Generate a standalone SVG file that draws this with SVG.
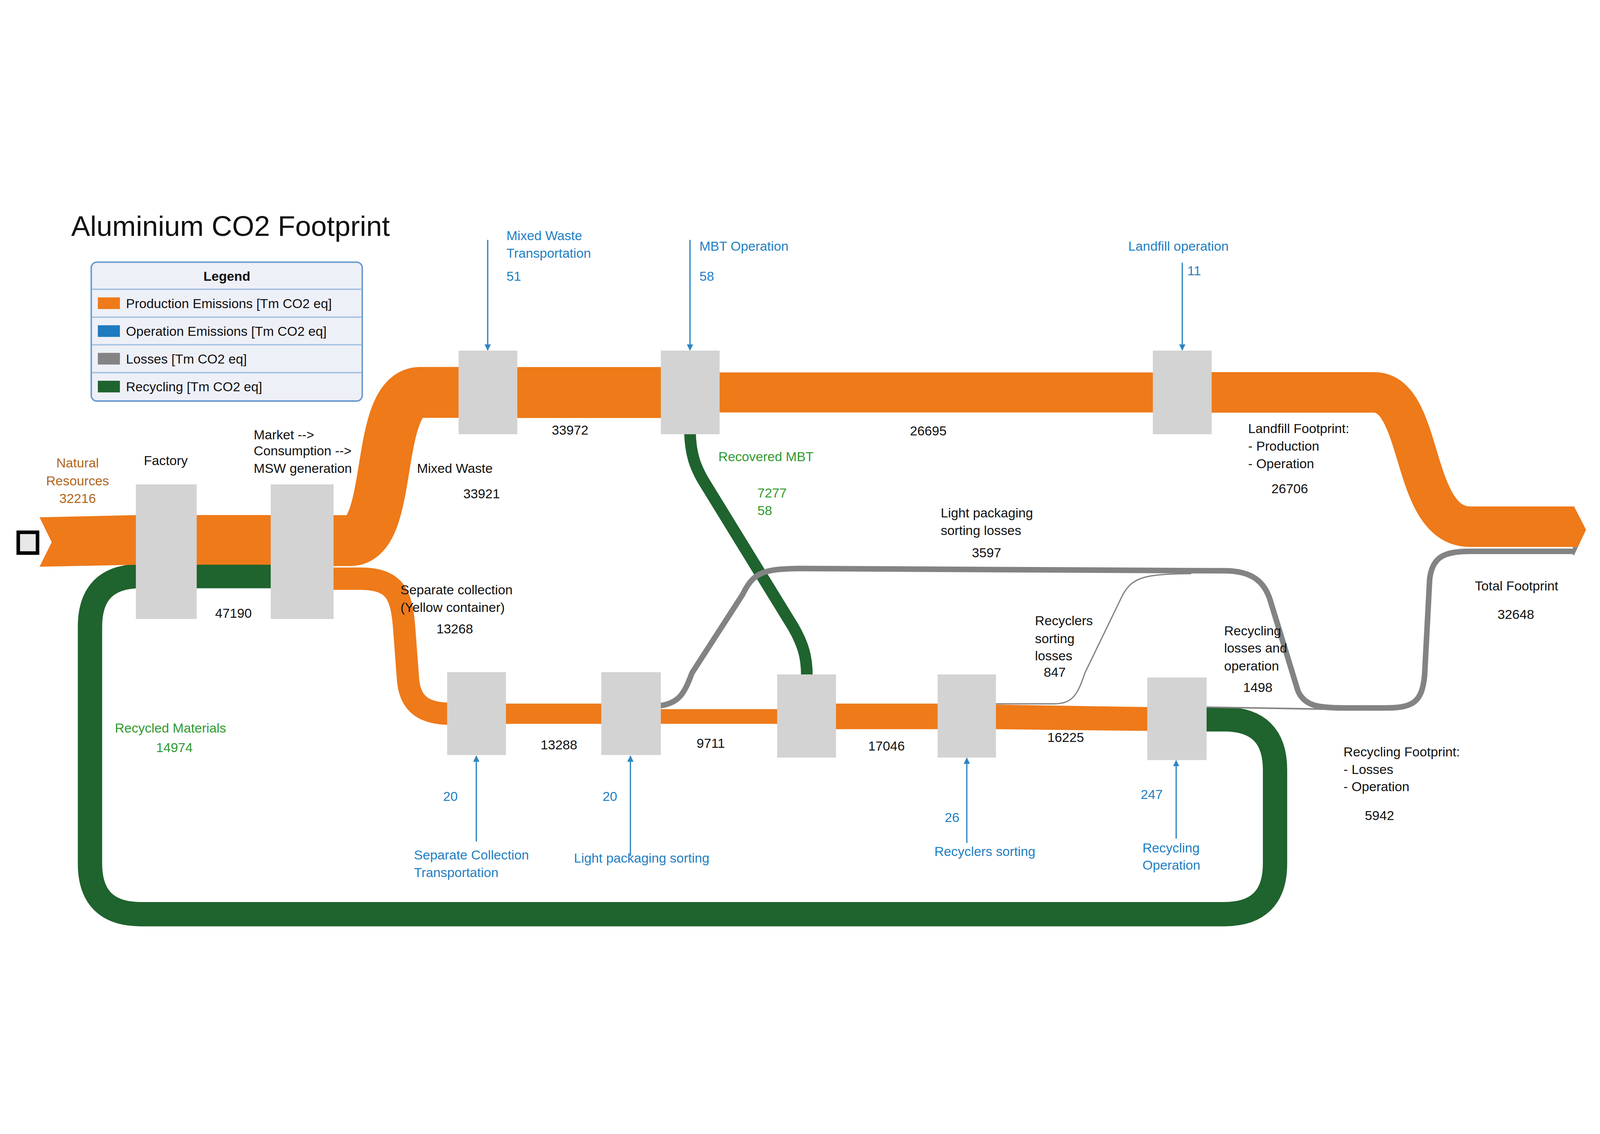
<svg xmlns="http://www.w3.org/2000/svg" width="6312" height="2904" viewBox="0 0 6312 2904" preserveAspectRatio="xMidYMid meet" style="max-width:100vw;max-height:100vh">
<defs>
<style>
text{font-family:"Liberation Sans",Arial,sans-serif;font-size:52px;fill:#111}
.b{fill:#1f7fc3}.g{fill:#2f9a2f}.br{fill:#b0651a}.c{text-anchor:middle}
.box{fill:#d3d3d3}
.or{fill:none;stroke:#ee7a1a}.gr{fill:none;stroke:#1f632e}.gy{fill:none;stroke:#838383}
.ar{stroke:#2e86c1;stroke-width:5;fill:none;marker-end:url(#ah)}
</style>
<marker id="ah" viewBox="0 0 10 10" refX="9" refY="5" markerWidth="5" markerHeight="5" orient="auto"><path d="M0,0 L10,5 L0,10 z" fill="#2e86c1"/></marker>
</defs>
<rect width="6312" height="2904" fill="#fff"/>
<text x="281" y="146" style="font-size:112px">Aluminium CO2 Footprint</text>
<g id="legend">
<rect x="360" y="249" width="1069" height="548" rx="22" fill="#eef0f8" stroke="#6b9bcf" stroke-width="6"/>
<g stroke="#a8c4e0" stroke-width="6"><line x1="362" y1="356" x2="1427" y2="356"/><line x1="362" y1="466" x2="1427" y2="466"/><line x1="362" y1="575" x2="1427" y2="575"/><line x1="362" y1="685" x2="1427" y2="685"/></g>
<text x="895" y="322" class="c" style="font-weight:bold">Legend</text>
<rect x="386" y="388" width="87" height="46" fill="#ee7a1a"/><text x="497" y="430">Production Emissions [Tm CO2 eq]</text>
<rect x="386" y="498" width="87" height="46" fill="#1f7bbf"/><text x="497" y="540">Operation Emissions [Tm CO2 eq]</text>
<rect x="386" y="607" width="87" height="46" fill="#838383"/><text x="497" y="649">Losses [Tm CO2 eq]</text>
<rect x="386" y="717" width="87" height="46" fill="#1f632e"/><text x="497" y="759">Recycling [Tm CO2 eq]</text>
</g>
<g id="connectors">
<path class="gr" stroke-width="96" d="M4740 2053 H4830 Q5030 2053 5030 2253 V2622 Q5030 2822 4830 2822 H555 Q355 2822 355 2622 V1688 Q355 1488 555 1488 H1080"/>
<polygon fill="#ee7a1a" points="156,1256 545,1247 545,1443 156,1451 204,1354"/>
<rect x="770" y="1247" width="310" height="196" fill="#ee7a1a"/>
<path class="or" stroke-width="201" d="M1300 1348 H1380 C1560 1348 1470 763 1660 763 H1820"/>
<rect x="2030" y="663" width="590" height="201" fill="#ee7a1a"/>
<path class="or" stroke-width="158" d="M2830 763 H4560"/>
<path class="or" stroke-width="160" d="M4770 763 H5420 C5620 763 5560 1293 5800 1293 H6210"/>
<polygon fill="#ee7a1a" points="6205,1213 6210,1213 6257,1305 6225,1373 6205,1373"/>
<polygon fill="#838383" points="6205,1373 6225,1373 6210,1405 6205,1405"/>
<path class="or" stroke-width="88" d="M1300 1498 H1420 C1560 1498 1585 1560 1595 1700 L1610 1900 C1620 2000 1680 2031 1780 2031"/>
<rect x="1990" y="1991" width="390" height="80" fill="#ee7a1a"/>
<rect x="2600" y="2013" width="475" height="58" fill="#ee7a1a"/>
<rect x="3290" y="1991" width="418" height="101" fill="#ee7a1a"/>
<polygon fill="#ee7a1a" points="3920,1995 4535,2005 4535,2099 3920,2092"/>
<path class="gr" stroke-width="46" d="M2722 920 C2724 1010 2745 1060 2774 1110 L3130 1690 C3170 1760 3183 1810 3183 1880"/>
<path class="gy" stroke-width="22" d="M2600 2000 C2680 1990 2700 1950 2730 1870 L2930 1560 C2970 1480 3000 1458 3160 1458 L4830 1467 C4950 1467 4990 1520 5010 1580 L5120 1940 C5145 2000 5200 2008 5300 2008 H5470 C5580 2008 5610 1980 5620 1880 L5640 1500 C5650 1410 5700 1390 5800 1390 H6210"/>
<path class="gy" stroke-width="5" d="M3920 1992 H4160 C4230 1990 4250 1960 4280 1870 L4430 1560 C4470 1490 4520 1480 4700 1478"/>
<path class="gy" stroke-width="6" d="M4760 2005 L5400 2016"/>
<line class="ar" x1="1924" y1="161" x2="1924" y2="596"/>
<line class="ar" x1="2722" y1="161" x2="2722" y2="596"/>
<line class="ar" x1="4664" y1="251" x2="4664" y2="596"/>
<line class="ar" x1="1879" y1="2535" x2="1879" y2="2198"/>
<line class="ar" x1="2487" y1="2593" x2="2487" y2="2198"/>
<line class="ar" x1="3814" y1="2541" x2="3814" y2="2206"/>
<line class="ar" x1="4640" y1="2524" x2="4640" y2="2216"/>
</g>
<g id="source"><rect x="72" y="1315" width="76" height="82" fill="#e8e8e8" stroke="#000" stroke-width="14"/>
<text class="br c" x="306" y="1059">Natural</text><text class="br c" x="306" y="1130">Resources</text><text class="br c" x="306" y="1200">32216</text></g>
<g id="factory"><rect class="box" x="536" y="1126" width="240" height="531"/><text class="c" x="654" y="1050">Factory</text></g>
<g id="market"><rect class="box" x="1068" y="1126" width="248" height="531"/><text x="1001" y="948">Market --&gt;</text><text x="1001" y="1011">Consumption --&gt;</text><text x="1001" y="1081">MSW generation</text></g>
<g id="mwt"><rect class="box" x="1809" y="598" width="232" height="330"/><text class="b" x="1998" y="162">Mixed Waste</text><text class="b" x="1998" y="232">Transportation</text><text class="b" x="1998" y="323">51</text></g>
<g id="mbt"><rect class="box" x="2607" y="598" width="232" height="330"/><text class="b" x="2759" y="204">MBT Operation</text><text class="b" x="2759" y="323">58</text></g>
<g id="landfill"><rect class="box" x="4548" y="598" width="232" height="330"/><text class="b" x="4451" y="204">Landfill operation</text><text class="b" x="4684" y="301">11</text></g>
<g id="sep"><rect class="box" x="1764" y="1867" width="232" height="327"/><text class="b" x="1748" y="2375">20</text><text class="b" x="1633" y="2607">Separate Collection</text><text class="b" x="1633" y="2676">Transportation</text></g>
<g id="lps"><rect class="box" x="2372" y="1867" width="235" height="327"/><text class="b" x="2377" y="2375">20</text><text class="b" x="2264" y="2618">Light packaging sorting</text></g>
<g id="mix"><rect class="box" x="3066" y="1876" width="232" height="328"/></g>
<g id="rs"><rect class="box" x="3699" y="1876" width="230" height="328"/><text class="b" x="3727" y="2459">26</text><text class="b" x="3686" y="2593">Recyclers sorting</text></g>
<g id="ro"><rect class="box" x="4526" y="1888" width="234" height="326"/><text class="b" x="4500" y="2367">247</text><text class="b" x="4507" y="2578">Recycling</text><text class="b" x="4507" y="2647">Operation</text></g>
<g id="labels">
<text x="1645" y="1081">Mixed Waste</text><text class="c" x="1900" y="1181">33921</text>
<text class="c" x="921" y="1652">47190</text>
<text class="c" x="2249" y="930">33972</text><text class="c" x="3662" y="932">26695</text>
<text class="g" x="2834" y="1035">Recovered MBT</text><text class="g" x="2988" y="1178">7277</text><text class="g" x="2988" y="1247">58</text>
<text x="1580" y="1560">Separate collection</text><text x="1580" y="1630">(Yellow container)</text><text class="c" x="1794" y="1714">13268</text>
<text class="c" x="2205" y="2171">13288</text><text class="c" x="2804" y="2165">9711</text><text class="c" x="3497" y="2177">17046</text><text class="c" x="4204" y="2143">16225</text>
<text x="3711" y="1256">Light packaging</text><text x="3711" y="1325">sorting losses</text><text class="c" x="3892" y="1414">3597</text>
<text x="4083" y="1681">Recyclers</text><text x="4083" y="1752">sorting</text><text x="4083" y="1821">losses</text><text class="c" x="4161" y="1885">847</text>
<text x="4829" y="1721">Recycling</text><text x="4829" y="1790">losses and</text><text x="4829" y="1861">operation</text><text class="c" x="4962" y="1945">1498</text>
<text x="4924" y="924">Landfill Footprint:</text><text x="4924" y="993">- Production</text><text x="4924" y="1062">- Operation</text><text class="c" x="5088" y="1160">26706</text>
<text x="5818" y="1545">Total Footprint</text><text class="c" x="5980" y="1657">32648</text>
<text x="5300" y="2199">Recycling Footprint:</text><text x="5300" y="2268">- Losses</text><text x="5300" y="2336">- Operation</text><text class="c" x="5442" y="2450">5942</text>
<text class="g" x="453" y="2106">Recycled Materials</text><text class="g c" x="688" y="2183">14974</text>
</g>
</svg>
